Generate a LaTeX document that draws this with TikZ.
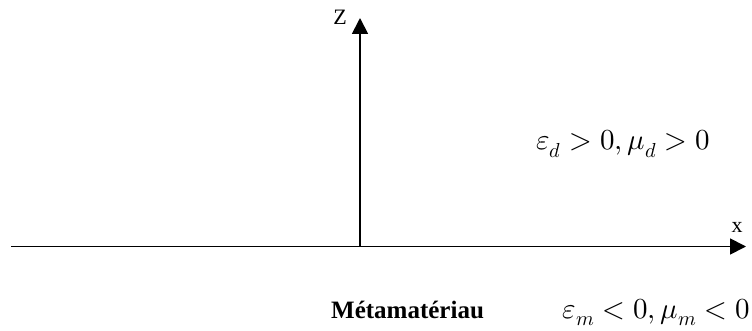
\documentclass[tikz,border=0pt]{standalone}
\usepackage{fontspec}
\usepackage{unicode-math}
\setmainfont{Liberation Serif}
\setmathfont{Latin Modern Math}
\usetikzlibrary{arrows.meta}
\begin{document}
\begin{tikzpicture}[x=1pt,y=-1pt,
  axis/.style={line width=1.8pt,-{Triangle[length=16pt,width=16pt]}},
  lab/.style={font=\fontsize{22}{25}\selectfont, inner sep=0pt},
  eq/.style={font=\fontsize{29}{33}\selectfont, inner sep=0pt, anchor=base east}]
\useasboundingbox (0,0) rectangle (752,331);
\coordinate (xs) at (11,246.5);
\coordinate (xe) at (746,246.5);
\coordinate (o) at (360,246.5);
\coordinate (ze) at (360,18);
\draw[axis] (xs) -- (xe);
\draw[axis] (o) -- (ze);
\node[lab] (zl) at (340,17) {Z};
\node[lab] (xl) at (737,227) {x};
\node[eq] (ed) at (710,150) {$\varepsilon_d > 0, \mu_d > 0$};
\node[inner sep=0pt,anchor=base west,font=\fontsize{25}{28}\selectfont\bfseries] (meta) at (331,318) {Métamatériau};
\node[eq] (em) at (750,318) {$\varepsilon_m < 0, \mu_m < 0$};
\end{tikzpicture}
\end{document}
